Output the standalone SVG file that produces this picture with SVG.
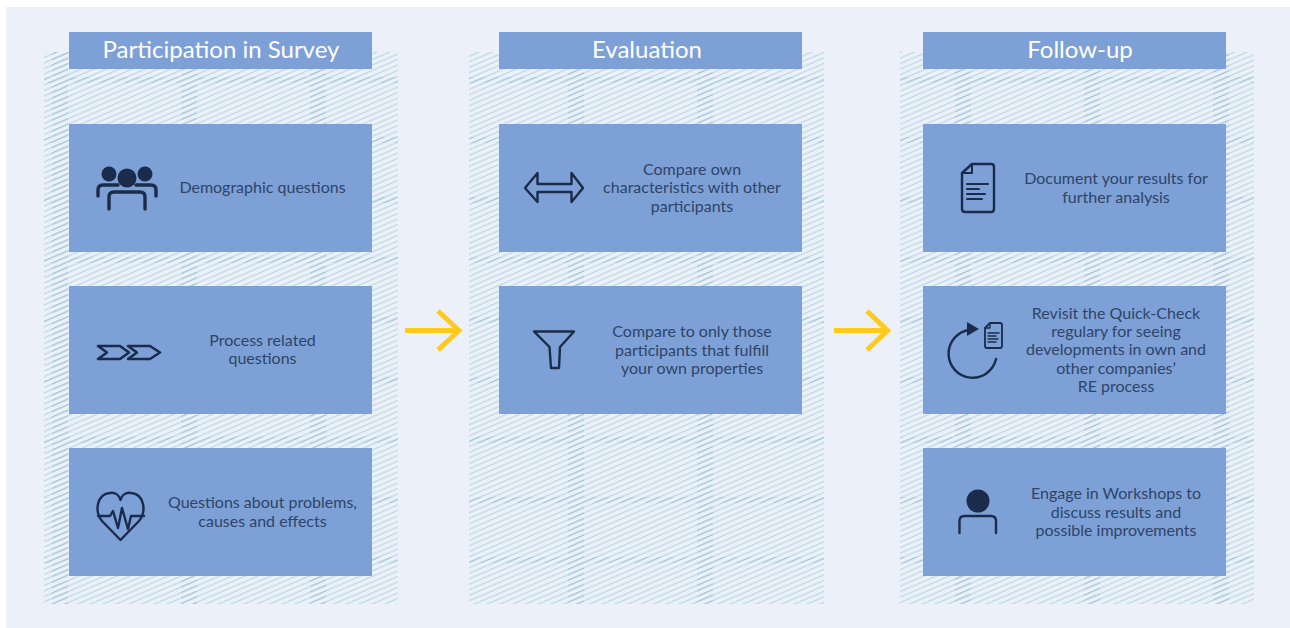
<svg xmlns="http://www.w3.org/2000/svg" width="1290" height="628" viewBox="0 0 1290 628">
<style>
.bg{fill:#ecf1f9}
.hatch{fill:url(#h)}
.hatch2{fill:url(#hd);mask:url(#bm)}
.box{fill:#7da1d6}
.t{font-family:"Lato","Open Sans",sans-serif;font-size:16px;fill:#2f4468;text-anchor:middle}
.h{font-family:"Lato","Open Sans",sans-serif;font-size:24px;fill:#fff;text-anchor:middle}
.i{fill:none;stroke:#1a2b4b;stroke-width:2.4;stroke-linecap:round;stroke-linejoin:round}
.s3{stroke-width:3.4}
.s2{stroke-width:2}
.s1{stroke-width:1.3}
.s18{stroke-width:1.8}
.b{stroke-linecap:butt;stroke-width:2.6}
.f{fill:#1a2b4b}
.a{fill:none;stroke:#ffca1c;stroke-width:5}
</style>
<defs>
<pattern id="h" width="12.8" height="5.5" patternUnits="userSpaceOnUse" patternTransform="translate(44 52)">
<rect width="12.8" height="5.5" fill="#ebf1f8"/>
<path d="M-12.8 11L12.800 0M0 11L25.600 0M-12.8 5.5L12.800 -5.5M0 5.5L25.600 -5.5" stroke="#b3cfe0" stroke-width="1" fill="none"/>
</pattern>
<pattern id="hd" width="12.8" height="5.5" patternUnits="userSpaceOnUse" patternTransform="translate(44 52)">
<path d="M-12.8 11L12.800 0M0 11L25.600 0M-12.8 5.5L12.800 -5.5M0 5.5L25.600 -5.5" stroke="#9cc1d7" stroke-width="1" fill="none"/>
</pattern>
<pattern id="bands" width="129" height="60" patternUnits="userSpaceOnUse">
<rect x="52" width="16" height="60" fill="#fff"/>
<rect y="17" width="129" height="6" fill="#fff"/>
</pattern>
<mask id="bm" maskUnits="userSpaceOnUse" x="0" y="0" width="1290" height="628">
<rect width="1290" height="628" fill="url(#bands)"/>
</mask>
</defs>
<rect class="bg" x="6" y="7" width="1284" height="621"/>
<g id="col1">
<rect class="hatch" x="44" y="52" width="354" height="552"/>
<rect class="hatch2" x="44" y="52" width="354" height="552"/>
<g id="h1"><rect class="box" x="69" y="32" width="303" height="37"/><text class="h" x="221" y="58">Participation in Survey</text></g>
<g id="n1"><rect class="box" x="69" y="124" width="303" height="128"/>
<circle class="f" cx="109" cy="174" r="7.500"/><circle class="f" cx="145" cy="174" r="7.500"/><circle class="f" cx="127" cy="178" r="9.500"/>
<path class="i s3" d="M98 196V190Q98 185 103 185H118M156 196V190Q156 185 151 185H136"/>
<path class="i s3" d="M109 209V197Q109 192 114 192H140Q145 192 145 197V209"/>
<text class="t" x="262.500" y="193">Demographic questions</text></g>
<g id="n2"><rect class="box" x="69" y="286" width="303" height="128"/>
<path class="i b" d="M98 346H120L129 352.500L120 359H98L107 352.500ZM128 346H150L160 352.500L150 359H128L137 352.500Z"/>
<text class="t" x="262.500" y="346">Process related</text><text class="t" x="262.500" y="364">questions</text></g>
<g id="n3"><rect class="box" x="69" y="448" width="303" height="128"/>
<path class="i" d="M120.500 540L102 521C94 511 97 494 110 493C115 492 119 495 120.500 500C122 495 126 492 131 493C144 494 147 511 139 521Z"/>
<path class="i" d="M98 516H110L113 511L118 528L122 508L128 529L131 516H144"/>
<text class="t" x="262.500" y="508">Questions about problems,</text><text class="t" x="262.500" y="527">causes and effects</text></g>
</g>
<g id="col2">
<rect class="hatch" x="469" y="52" width="355" height="552"/>
<rect class="hatch2" x="469" y="52" width="355" height="552"/>
<g id="h2"><rect class="box" x="499" y="32" width="303" height="37"/><text class="h" x="647" y="58">Evaluation</text></g>
<g id="n4"><rect class="box" x="499" y="124" width="303" height="128"/>
<path class="i" d="M525 188L537.500 173V184H571.500V173L583 188L571.500 202V192H537.500V202Z"/>
<text class="t" x="692" y="175">Compare own</text><text class="t" x="692" y="193">characteristics with other</text><text class="t" x="692" y="212">participants</text></g>
<g id="n5"><rect class="box" x="499" y="286" width="303" height="128"/>
<path class="i" d="M534 331.500H574L560 347L559 368H551L549.500 347Z"/>
<text class="t" x="692" y="337">Compare to only those</text><text class="t" x="692" y="356">participants that fulfill</text><text class="t" x="692" y="374">your own properties</text></g>
</g>
<g id="col3">
<rect class="hatch" x="900" y="52" width="354" height="552"/>
<rect class="hatch2" x="900" y="52" width="354" height="552"/>
<g id="h3"><rect class="box" x="923" y="32" width="303" height="37"/><text class="h" x="1080" y="58">Follow-up</text></g>
<g id="n6"><rect class="box" x="923" y="124" width="303" height="128"/>
<path class="i" d="M972 164H991Q994 164 994 167V209Q994 212 991 212H965Q962 212 962 209V173Z"/>
<path class="i s2" d="M972 164V173H962"/>
<path class="i s2" d="M967 184H988M967 189H979M967 194H985M967 199H982"/>
<text class="t" x="1116" y="184">Document your results for</text><text class="t" x="1116" y="203">further analysis</text></g>
<g id="n7"><rect class="box" x="923" y="286" width="303" height="128"/>
<path class="i" d="M969 330A24 24 0 1 0 996 359"/>
<path class="f" d="M967 322L979 329L967 336Z"/>
<path class="i s18" d="M990 323H1000Q1002 323 1002 325V346Q1002 348 1000 348H987Q985 348 985 346V328Z"/>
<path class="i s1" d="M990 323V328H985"/>
<path class="i s1" d="M988 333H999M988 336H996M988 339H998M988 342H996"/>
<text class="t" x="1116" y="319">Revisit the Quick-Check</text><text class="t" x="1116" y="337">regulary for seeing</text><text class="t" x="1116" y="355">developments in own and</text><text class="t" x="1116" y="374">other companies’</text><text class="t" x="1116" y="392">RE process</text></g>
<g id="n8"><rect class="box" x="923" y="448" width="303" height="128"/>
<circle class="f" cx="978" cy="501" r="11.500"/>
<path class="i" d="M959.500 533V521Q959.500 516 964.500 516H991Q996 516 996 521V533"/>
<text class="t" x="1116" y="499">Engage in Workshops to</text><text class="t" x="1116" y="518">discuss results and</text><text class="t" x="1116" y="536">possible improvements</text></g>
</g>
<g id="connectors">
<path class="a" d="M405 330.500H459M438 311L459 330.500L438 350"/>
<path class="a" d="M834 330.500H887.500M867 311L887.500 330.500L867 350"/>
</g>
</svg>
